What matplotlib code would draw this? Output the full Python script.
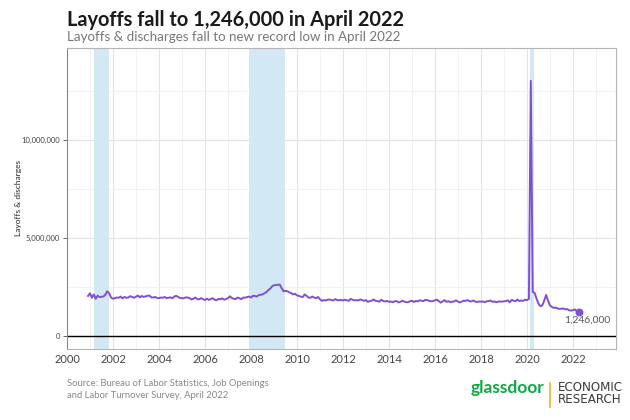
import matplotlib
matplotlib.use("Agg")
import matplotlib.pyplot as plt
from matplotlib.ticker import FuncFormatter, MultipleLocator
import numpy as np

plt.rcParams['font.family'] = ['Lato', 'DejaVu Sans']

# JOLTS layoffs & discharges, thousands, monthly from Dec 2000 to Apr 2022
start_year, start_month = 2000, 12
layoffs_2000 = [2040]
layoffs_2001 = [2180, 1950, 2120, 1890, 2060, 1980, 2000, 2010, 2100, 2280, 2180, 1960]
layoffs_2002 = [1900, 1930, 1960, 1950, 2010, 1920, 1990, 1950, 1960, 2030, 1990, 1950]
layoffs_2003 = [2000, 2060, 1970, 2040, 1990, 2020, 2050, 2060, 1970, 1960, 1990, 1940]
layoffs_2004 = [1930, 1960, 1950, 1990, 1930, 1950, 1970, 1920, 2010, 2050, 1990, 1940]
layoffs_2005 = [1930, 1920, 1970, 1960, 1930, 1860, 1900, 1960, 1880, 1870, 1930, 1880]
layoffs_2006 = [1830, 1900, 1840, 1880, 1930, 1850, 1820, 1890, 1870, 1920, 1850, 1880]
layoffs_2007 = [1930, 2020, 1940, 1900, 1880, 1960, 1920, 1880, 1960, 1950, 1990, 2010]
layoffs_2008 = [1960, 2050, 2040, 2010, 2080, 2100, 2120, 2180, 2230, 2340, 2410, 2530]
layoffs_2009 = [2590, 2600, 2610, 2620, 2450, 2280, 2300, 2280, 2230, 2180, 2120, 2150]
layoffs_2010 = [2070, 2040, 2010, 1980, 2120, 2050, 1960, 1950, 2010, 1960, 1930, 1990]
layoffs_2011 = [1870, 1790, 1830, 1810, 1850, 1860, 1830, 1810, 1880, 1830, 1820, 1840]
layoffs_2012 = [1810, 1850, 1820, 1790, 1890, 1850, 1820, 1830, 1810, 1860, 1830, 1790]
layoffs_2013 = [1830, 1740, 1780, 1800, 1860, 1790, 1780, 1750, 1850, 1780, 1760, 1790]
layoffs_2014 = [1740, 1760, 1720, 1770, 1780, 1710, 1740, 1800, 1750, 1720, 1730, 1770]
layoffs_2015 = [1800, 1730, 1790, 1760, 1820, 1800, 1780, 1840, 1830, 1790, 1770, 1780]
layoffs_2016 = [1820, 1850, 1780, 1700, 1760, 1830, 1740, 1780, 1720, 1750, 1760, 1820]
layoffs_2017 = [1750, 1710, 1760, 1800, 1790, 1830, 1780, 1760, 1810, 1750, 1730, 1760]
layoffs_2018 = [1750, 1760, 1720, 1770, 1780, 1810, 1740, 1760, 1720, 1750, 1760, 1750]
layoffs_2019 = [1770, 1780, 1820, 1710, 1840, 1800, 1770, 1860, 1780, 1810, 1790, 1850]
layoffs_2020 = [1830, 1890, 13030, 2250, 2200, 1900, 1650, 1520, 1560, 1800, 2090, 1800]
layoffs_2021 = [1560, 1480, 1430, 1450, 1400, 1380, 1390, 1400, 1360, 1370, 1310, 1290]
layoffs_2022 = [1320, 1350, 1270, 1246]

# NBER recessions (decimal years)
recession_starts = [2001.17, 2007.92, 2020.12]
recession_ends = [2001.84, 2009.47, 2020.30]

last_label = "1,246,000"

layoffs = np.array(layoffs_2000 + layoffs_2001 + layoffs_2002 + layoffs_2003 + layoffs_2004
                   + layoffs_2005 + layoffs_2006 + layoffs_2007 + layoffs_2008 + layoffs_2009
                   + layoffs_2010 + layoffs_2011 + layoffs_2012 + layoffs_2013 + layoffs_2014
                   + layoffs_2015 + layoffs_2016 + layoffs_2017 + layoffs_2018 + layoffs_2019
                   + layoffs_2020 + layoffs_2021 + layoffs_2022) * 1000
dates = start_year + (start_month - 1) / 12 + np.arange(len(layoffs)) / 12

fig = plt.figure(figsize=(6.3, 4.2), dpi=100)
ax = fig.add_axes([0.1063, 0.168, 0.8707, 0.718])

for s, e in zip(recession_starts, recession_ends):
    ax.axvspan(s, e, color='#d2e8f5', lw=0, zorder=1)

ax.axhline(0, color='black', lw=1.0, zorder=2)
ax.plot(dates, layoffs, color='#8150d2', lw=1.4, zorder=3)
ax.scatter(dates[-1:], layoffs[-1:], color='#8150d2', s=22, zorder=4)
ax.annotate(last_label, (dates[-1], layoffs[-1]), xytext=(6, -3), textcoords='offset points',
            ha='center', va='top', fontsize=7.5, color='#555555')

ax.set_xlim(2000, 2023.85)
ax.set_ylim(-0.69e6, 14.71e6)
ax.xaxis.set_major_locator(MultipleLocator(2))
ax.xaxis.set_minor_locator(MultipleLocator(1))
ax.yaxis.set_major_locator(MultipleLocator(5e6))
ax.yaxis.set_minor_locator(MultipleLocator(2.5e6))
ax.yaxis.set_major_formatter(FuncFormatter(lambda v, p: f"{int(v):,}"))

ax.grid(which='major', color='#e4e4e4', lw=0.8, zorder=0)
ax.grid(which='minor', color='#f0f0f0', lw=0.6, zorder=0)
ax.set_axisbelow(True)

for side in ['top', 'right', 'bottom', 'left']:
    ax.spines[side].set_color('#b5b5b5')
    ax.spines[side].set_linewidth(0.8)
ax.spines['left'].set_color('#888888')

ax.tick_params(axis='y', labelsize=5.5, colors='#444444', length=3, width=0.6, pad=2)
ax.tick_params(axis='x', labelsize=8, colors='#444444', length=0, pad=3)
ax.tick_params(which='minor', length=0)
fig.text(0.029, 0.529, "Layoffs & discharges", fontsize=6, color='#222222',
         rotation=90, ha='center', va='center')

fig.text(0.1063, 0.952, "Layoffs fall to 1,246,000 in April 2022", fontsize=14.4,
         fontweight='bold', color='#1a1a1a', va='center')
fig.text(0.1063, 0.912, "Layoffs & discharges fall to new record low in April 2022", fontsize=9.6,
         color='#777777', va='center')

fig.text(0.1063, 0.073, "Source: Bureau of Labor Statistics, Job Openings\nand Labor Turnover Survey, April 2022",
         fontsize=6.8, color='#888888', va='center', linespacing=1.35)

fig.text(0.864, 0.077, "glassdoor", fontsize=12.5, fontweight='bold', color='#0caa41',
         ha='right', va='center')
fig.add_artist(plt.Line2D([0.873, 0.873], [0.031, 0.088], color='#f0b323', lw=1.2))
fig.text(0.886, 0.077, "ECONOMIC", fontsize=9.5, color='#3a3a3a', ha='left', va='center',
         family='DejaVu Sans', stretch='condensed')
fig.text(0.886, 0.048, "RESEARCH", fontsize=9.5, color='#3a3a3a', ha='left', va='center',
         family='DejaVu Sans', stretch='condensed')

fig.savefig("out.png", dpi=100)
